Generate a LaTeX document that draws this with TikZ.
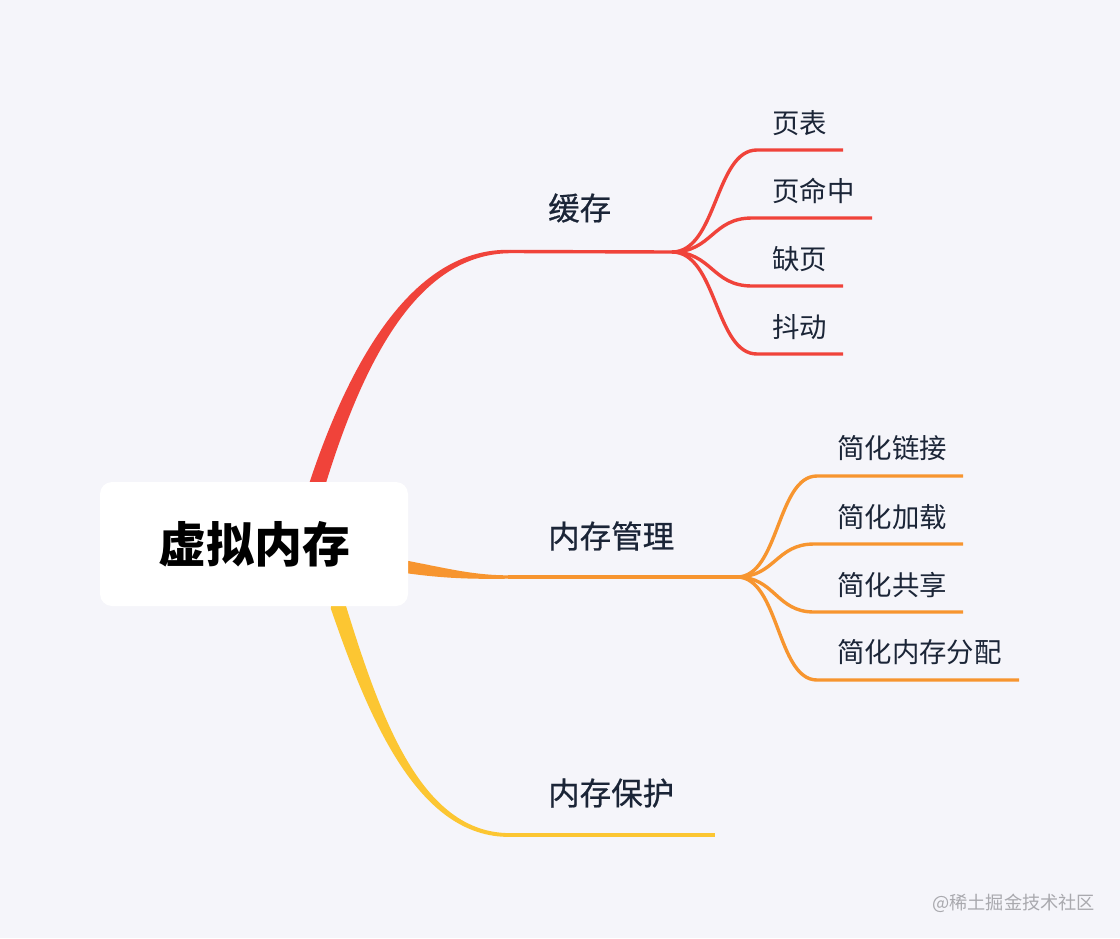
\documentclass[tikz,border=0pt]{standalone}
\usepackage{fontspec}
\newfontfamily\cjk{Noto Sans CJK SC}
\newfontfamily\cjkmed{Noto Sans CJK SC}[FakeBold=0.6]
\definecolor{bg}{HTML}{F5F5FA}
\definecolor{ink}{HTML}{1B2537}
\definecolor{cred}{HTML}{F0433A}
\definecolor{corange}{HTML}{F7952F}
\definecolor{cyellow}{HTML}{FCC632}
\definecolor{wm}{HTML}{A9A9AE}
\begin{document}
\begin{tikzpicture}[x=1pt,y=-1pt,
  sublabel/.style={font=\cjk\fontsize{27.4}{27.4}\selectfont, text=ink, anchor=west, inner sep=0pt},
  branchlabel/.style={font=\cjkmed\fontsize{31.5}{31.5}\selectfont, text=ink, anchor=west, inner sep=0pt},
  redline/.style={draw=cred, line width=3.4pt},
  orangeline/.style={draw=corange, line width=3.4pt},
  yellowline/.style={draw=cyellow, line width=3.8pt},
  rootbox/.style={fill=white, rounded corners=12pt, minimum width=308pt, minimum height=124pt, inner sep=0pt,
    font=\cjk\bfseries\fontsize{48}{48}\selectfont, text=black}]
\fill[bg] (0,0) rectangle (1120,938);
\useasboundingbox (0,0) rectangle (1120,938);

% hubs and line ends
\coordinate (rs) at (510,251.5);
\coordinate (rh) at (672,252);
\coordinate (r1) at (757,150); \coordinate (r1e) at (843,150);
\coordinate (r2) at (752,218); \coordinate (r2e) at (872,218);
\coordinate (r3) at (752,286); \coordinate (r3e) at (843,286);
\coordinate (r4) at (757,354); \coordinate (r4e) at (843,354);

\coordinate (os) at (508,577);
\coordinate (oh) at (737,577);
\coordinate (o1) at (817,476); \coordinate (o1e) at (963,476);
\coordinate (o2) at (814,544); \coordinate (o2e) at (963,544);
\coordinate (o3) at (814,612); \coordinate (o3e) at (963,612);
\coordinate (o4) at (817,680); \coordinate (o4e) at (1019,680);

\coordinate (ys) at (510,835);
\coordinate (ye) at (715,835);

% tapered main branches
\fill[cred] (304,500) -- (310.5,479.5) .. controls (355,347) and (419,248) .. (510,249.8)
  -- (510,253.2) .. controls (421,254) and (366,353) .. (325.5,484.5) -- (320,503) -- cycle;
\fill[corange] (395,558.5) .. controls (440,566.5) and (470,575.3) .. (508,575.3)
  -- (508,578.7) .. controls (470,579.2) and (440,578.5) .. (395,571.5) -- cycle;
\fill[cyellow] (333,590) -- (330.8,608.5) .. controls (370,722.5) and (419,837.8) .. (510,836.9)
  -- (510,833.1) .. controls (421,833.3) and (380.5,717.5) .. (345.2,603.5) -- (347,590) -- cycle;

% main horizontal lines
\draw[redline] (rs) -- (rh);
\draw[orangeline] (os) -- (oh);
\draw[yellowline] (ys) -- (ye);

% red sub-branches
\draw[redline] (rh) .. controls +(45,0) and +(-42,0) .. (r1) -- (r1e);
\draw[redline] (rh) .. controls +(40,0) and +(-40,0) .. (r2) -- (r2e);
\draw[redline] (rh) .. controls +(40,0) and +(-40,0) .. (r3) -- (r3e);
\draw[redline] (rh) .. controls +(45,0) and +(-42,0) .. (r4) -- (r4e);

% orange sub-branches
\draw[orangeline] (oh) .. controls +(42,0) and +(-40,0) .. (o1) -- (o1e);
\draw[orangeline] (oh) .. controls +(38,0) and +(-38,0) .. (o2) -- (o2e);
\draw[orangeline] (oh) .. controls +(38,0) and +(-38,0) .. (o3) -- (o3e);
\draw[orangeline] (oh) .. controls +(42,0) and +(-40,0) .. (o4) -- (o4e);

% root
\node[rootbox] (root) at (254,544) {虚拟内存};

% branch labels
\node[branchlabel] (b1) at (548,208) {缓存};
\node[branchlabel] (b2) at (548,536) {内存管理};
\node[branchlabel] (b3) at (548,793) {内存保护};

% red sub labels
\node[sublabel] (s1) at (772,123) {页表};
\node[sublabel] (s2) at (772,191) {页命中};
\node[sublabel] (s3) at (772,259) {缺页};
\node[sublabel] (s4) at (772,327) {抖动};

% orange sub labels
\node[sublabel] (t1) at (837,448) {简化链接};
\node[sublabel] (t2) at (837,517) {简化加载};
\node[sublabel] (t3) at (837,585) {简化共享};
\node[sublabel] (t4) at (837,652) {简化内存分配};

% watermark
\node[font=\cjk\fontsize{18.2}{18.2}\selectfont, text=wm, anchor=west, inner sep=0pt] (wmk) at (932,903) {@稀土掘金技术社区};
\end{tikzpicture}
\end{document}
